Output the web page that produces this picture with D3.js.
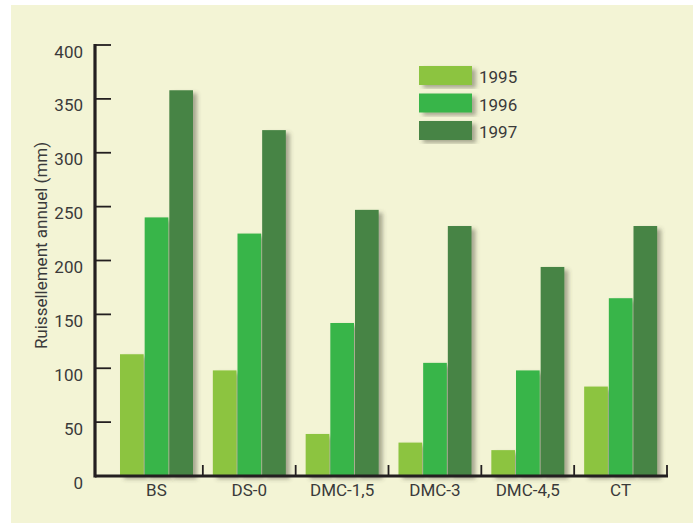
<!DOCTYPE html>
<html>
<head>
<meta charset="utf-8">
<script src="https://cdn.jsdelivr.net/npm/d3@7"></script>
<style>
  body { margin: 0; background: #ffffff; }
  svg { display: block; }
  text { font-family: Roboto, "Liberation Sans", sans-serif; fill: #3a3a3a; }
</style>
</head>
<body>
<div id="chart"></div>
<script>
'use strict'

// categories and series
const categories = ['BS', 'DS-0', 'DMC-1,5', 'DMC-3', 'DMC-4,5', 'CT']
const years = ['1995', '1996', '1997']
const runoff1995 = [113, 98, 39, 31, 24, 83]
const runoff1996 = [240, 225, 142, 105, 98, 165]
const runoff1997 = [358, 321, 247, 232, 194, 232]
const yTicks = [0, 50, 100, 150, 200, 250, 300, 350, 400]
const yTitle = 'Ruissellement annuel (mm)'

const seriesValues = [runoff1995, runoff1996, runoff1997]
const colors = d3.scaleOrdinal().domain(years).range(['#8cc43f', '#39b54a', '#478445'])

const width = 697, height = 524

const svg = d3.select('#chart')
    .append('svg')
    .attr('width', width)
    .attr('height', height)

// drop shadow used on bars and legend swatches
const defs = svg.append('defs')
defs.append('filter')
    .attr('id', 'shadow')
    .attr('x', '-20%').attr('y', '-10%')
    .attr('width', '160%').attr('height', '130%')
    .append('feDropShadow')
    .attr('dx', 4).attr('dy', 3)
    .attr('stdDeviation', 2.2)
    .attr('flood-color', '#4a4a3a')
    .attr('flood-opacity', 0.45)

// cream panel
svg.append('rect')
    .attr('x', 11).attr('y', 5)
    .attr('width', 682).attr('height', 518)
    .attr('fill', '#f3f4d5')

// scales
const x0 = d3.scaleBand().domain(categories).range([110, 667])
const x1 = d3.scaleBand().domain(years).range([10, 83]).paddingInner(0.04)
const y = d3.scaleLinear().domain([0, 400]).range([476, 45])

// bars, series by series so each shadow falls on the next bar
years.forEach((yr, si) => {
    svg.append('g')
        .attr('fill', colors(yr))
        .selectAll('rect')
        .data(categories)
        .join('rect')
        .attr('filter', 'url(#shadow)')
        .attr('x', (c) => x0(c) + x1(yr))
        .attr('width', x1.bandwidth())
        .attr('y', (c, i) => y(seriesValues[si][i]))
        .attr('height', (c, i) => y(0) - y(seriesValues[si][i]))
})

// y axis
const yAxis = svg.append('g')
yAxis.append('line')
    .attr('x1', 95).attr('x2', 95)
    .attr('y1', y(400) - 1).attr('y2', y(0) + 1.6)
    .attr('stroke', '#231f20').attr('stroke-width', 3.2)
yAxis.selectAll('.tick')
    .data(yTicks)
    .join('line')
    .attr('x1', 95).attr('x2', 111)
    .attr('y1', (d) => y(d)).attr('y2', (d) => y(d))
    .attr('stroke', '#231f20').attr('stroke-width', 1.8)
yAxis.selectAll('text')
    .data(yTicks)
    .join('text')
    .attr('x', 83)
    .attr('y', (d) => y(d) + 12.5)
    .attr('text-anchor', 'end')
    .attr('font-size', 17)
    .text((d) => d)

// x axis
const xAxis = svg.append('g')
xAxis.append('line')
    .attr('x1', 95).attr('x2', 668)
    .attr('y1', y(0)).attr('y2', y(0))
    .attr('stroke', '#231f20').attr('stroke-width', 3.2)
xAxis.selectAll('.tick')
    .data(categories)
    .join('line')
    .attr('x1', (c) => x0(c) + x0.bandwidth())
    .attr('x2', (c) => x0(c) + x0.bandwidth())
    .attr('y1', y(0) - 11).attr('y2', y(0))
    .attr('stroke', '#231f20').attr('stroke-width', 1.8)
xAxis.selectAll('text')
    .data(categories)
    .join('text')
    .attr('x', (c) => x0(c) + x0.bandwidth() / 2)
    .attr('y', 495.5)
    .attr('text-anchor', 'middle')
    .attr('font-size', 17)
    .text((c) => c)

// y title
svg.append('text')
    .attr('transform', 'translate(46.5,245.5) rotate(-90)')
    .attr('text-anchor', 'middle')
    .attr('font-size', 17)
    .text(yTitle)

// legend
const legend = svg.append('g')
    .selectAll('g')
    .data(years)
    .join('g')
    .attr('transform', (d, i) => `translate(419,${66 + i * 27.5})`)
legend.append('rect')
    .attr('width', 53).attr('height', 19)
    .attr('fill', (d) => colors(d))
    .attr('filter', 'url(#shadow)')
legend.append('text')
    .attr('x', 60).attr('y', 17.3)
    .attr('font-size', 17)
    .text((d) => d)
</script>
</body>
</html>
